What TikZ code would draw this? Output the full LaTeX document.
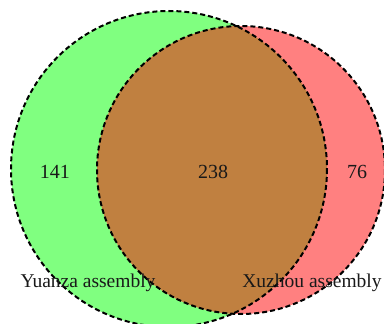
\documentclass[tikz,border=0pt]{standalone}
\usepackage{fontspec}
\setmainfont{Liberation Serif}
\begin{document}
\begin{tikzpicture}[x=1pt,y=-1pt,
  outline/.style={draw=black,line width=2pt,dash pattern=on 5pt off 3pt},
  count/.style={font=\fontsize{20}{20}\selectfont,text=black!90},
  setname/.style={font=\fontsize{19.5}{20}\selectfont,text=black!90}]
\useasboundingbox (0,0) rectangle (384,324);
\clip (0,0) rectangle (384,324);
\coordinate (cA) at (169,169);
\coordinate (cB) at (241,170);
\def\rA{158}
\def\rB{144}
% set fills
\fill[green!50] (cA) circle (\rA);
\fill[red!50] (cB) circle (\rB);
\begin{scope}
  \clip (cA) circle (\rA);
  \fill[fill={rgb,255:red,192;green,128;blue,64}] (cB) circle (\rB);
\end{scope}
% dashed outlines
\draw[outline] (cA) circle (\rA);
\draw[outline] (cB) circle (\rB);
% counts
\node[count] (onlyA) at (55,172) {141};
\node[count] (both) at (213,172) {238};
\node[count] (onlyB) at (357,172) {76};
% set names
\node[setname] (nameA) at (88,283) {Yuanza assembly};
\node[setname] (nameB) at (312,283) {Xuzhou assembly};
\end{tikzpicture}
\end{document}
